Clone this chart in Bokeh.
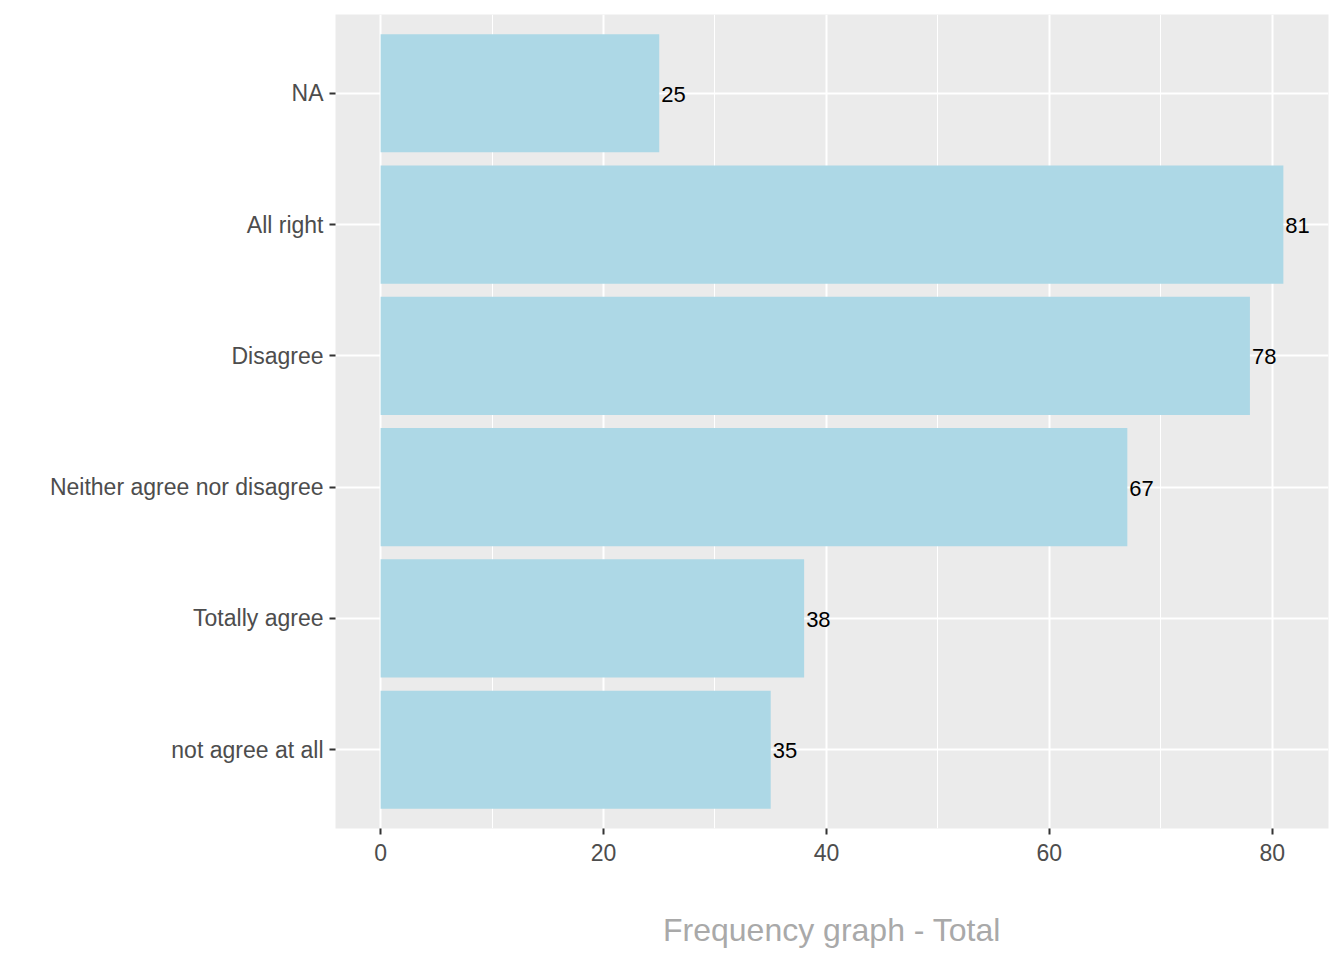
from bokeh.plotting import figure
from bokeh.models import FixedTicker, Range1d, FactorRange, ColumnDataSource
from bokeh.embed import file_html
from bokeh.resources import INLINE
from bokeh.core.properties import value

# Data (bottom to top)
categories = ["not agree at all", "Totally agree", "Neither agree nor disagree",
              "Disagree", "All right", "NA"]
counts = [35, 38, 67, 78, 81, 25]
x_ticks = [0, 20, 40, 60, 80]
x_minor = [10, 30, 50, 70]
x_title = "Frequency graph - Total"

src = ColumnDataSource(dict(cat=categories, n=counts, lab=[str(v) for v in counts]))

p = figure(width=1330, height=952, output_backend="svg", toolbar_location=None,
           y_range=FactorRange(factors=categories, range_padding=0.1,
                               range_padding_units="absolute"),
           x_range=Range1d(-4.05, 85.05))
p.min_border_left = 335
p.min_border_right = 2
p.min_border_top = 14
p.min_border_bottom = 124
p.outline_line_color = None
p.background_fill_color = "#EBEBEB"
p.border_fill_color = "white"

p.hbar(y="cat", right="n", left=0, height=0.9, source=src,
       fill_color="#ADD8E6", line_color=None)
p.text(x="n", y="cat", text="lab", source=src, x_offset=2, y_offset=1,
       text_align="left", text_baseline="middle",
       text_font=value("Liberation Sans"), text_font_size="22px", text_color="black")

p.xaxis.ticker = FixedTicker(ticks=x_ticks, minor_ticks=x_minor)
p.xaxis.axis_label = x_title
p.xaxis.axis_label_text_font = "Liberation Sans"
p.xaxis.axis_label_text_font_style = "normal"
p.xaxis.axis_label_text_font_size = "32px"
p.xaxis.axis_label_text_color = "#A9A9A9"
p.xaxis.axis_label_standoff = 48

for ax in (p.xaxis, p.yaxis):
    ax.axis_line_color = None
    ax.major_tick_in = 0
    ax.major_tick_out = 6
    ax.major_tick_line_color = "#333333"
    ax.major_tick_line_width = 2
    ax.minor_tick_line_color = None
    ax.major_label_text_font = "Liberation Sans"
    ax.major_label_text_font_size = "23px"
    ax.major_label_text_color = "#4D4D4D"
p.yaxis.major_label_standoff = 6
p.xaxis.major_label_standoff = 9

p.xgrid.grid_line_color = "white"
p.xgrid.grid_line_width = 2
p.xgrid.minor_grid_line_color = "white"
p.xgrid.minor_grid_line_width = 1
p.ygrid.grid_line_color = "white"
p.ygrid.grid_line_width = 2

open("out.html", "w").write(file_html(p, INLINE))
